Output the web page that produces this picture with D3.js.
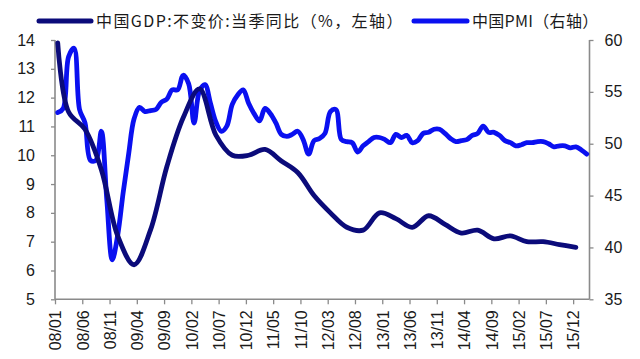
<!DOCTYPE html>
<html><head><meta charset="utf-8">
<script src="https://cdn.jsdelivr.net/npm/d3@7"></script>
<style>
html,body{margin:0;padding:0;background:#fff;}
svg{display:block;font-family:"Liberation Sans",Arial,sans-serif;}
</style></head>
<body>
<svg id="chart" width="640" height="359"></svg>
<script>
// ---- data ----
const startYear = 2008;
const monthCount = 98; // 2008/01 .. 2016/02
const xTickLabels = ["08/01","08/06","08/11","09/04","09/09","10/02","10/07","10/12","11/05","11/10",
                     "12/03","12/08","13/01","13/06","13/11","14/04","14/09","15/02","15/07","15/12"];
const leftTicks = [5,6,7,8,9,10,11,12,13,14];
const rightTicks = [35,40,45,50,55,60];
const gdpDates = ["2008-01","2008-03","2008-06","2008-09","2008-12","2009-03","2009-06","2009-09","2009-12",
                  "2010-03","2010-06","2010-09","2010-12","2011-03","2011-06","2011-09","2011-12",
                  "2012-03","2012-06","2012-09","2012-12","2013-03","2013-06","2013-09","2013-12",
                  "2014-03","2014-06","2014-09","2014-12","2015-03","2015-06","2015-09","2015-12"];
const gdpValues = [13.9,11.5,10.9,9.5,7.2,6.2,7.4,9.6,11.3,
                   12.3,10.7,10.0,10.0,10.2,9.8,9.4,8.6,
                   8.0,7.5,7.4,8.0,7.8,7.5,7.9,7.6,
                   7.3,7.4,7.1,7.2,7.0,7.0,6.9,6.8];
const pmiStart = "2008-01";
const pmiValues = [
  53.0,53.4,58.4,59.2,53.3,52.0,48.4,48.4,51.2,44.6,38.8,41.2,
  45.3,49.0,52.4,53.5,53.1,53.2,53.3,54.0,54.3,55.2,55.2,56.6,
  55.8,52.0,55.1,55.7,53.9,52.1,51.2,51.7,53.8,54.7,55.2,53.9,
  52.9,52.2,53.4,52.9,52.0,50.9,50.7,50.9,51.2,50.4,49.0,50.3,
  50.5,51.0,53.1,53.3,50.4,50.2,50.1,49.2,49.8,50.2,50.6,50.6,
  50.4,50.1,50.9,50.6,50.8,50.1,50.3,51.0,51.1,51.4,51.4,51.0,
  50.5,50.2,50.3,50.4,50.8,51.0,51.7,51.1,51.1,50.8,50.3,50.1,
  49.8,49.9,50.1,50.1,50.2,50.2,50.0,49.7,49.8,49.8,49.6,49.7,
  49.4,49.0];
const legendLabels = ["中国GDP:不变价:当季同比（%，左轴）","中国PMI（右轴）"];
const colors = {gdp:"#0b0b7a", pmi:"#0a10f0", axis:"#8a8a8a", text:"#1a1a1a"};

// ---- helpers ----
function monthIndex(s){ const [y,m]=s.split("-").map(Number); return (y-startYear)*12+(m-1); }
function labelIndex(l){ const [y,m]=l.split("/").map(Number); return (2000+y-startYear)*12+(m-1); }

const svg = d3.select("#chart");
const L = 55, R = 589.5, T = 40, B = 299.3;

const x = d3.scaleLinear().domain([0, monthCount]).range([L, R]);
const yL = d3.scaleLinear().domain([5, 14]).range([B, T]);
const yR = d3.scaleLinear().domain([35, 60]).range([B, T]);

// axes
const axL = svg.append("g").attr("transform",`translate(${L},0)`)
  .call(d3.axisLeft(yL).tickValues(leftTicks).tickSize(4).tickPadding(16).tickFormat(d3.format("d")));
const axR = svg.append("g").attr("transform",`translate(${R},0)`)
  .call(d3.axisRight(yR).tickValues(rightTicks).tickSize(4).tickPadding(11).tickFormat(d3.format("d")));
const axB = svg.append("g").attr("transform",`translate(0,${B})`)
  .call(d3.axisBottom(x).tickValues(xTickLabels.map(labelIndex)).tickSize(5)
        .tickFormat((d,i)=>xTickLabels[i]));
[axL,axR,axB].forEach(a=>{
  a.select(".domain").attr("stroke",colors.axis).attr("stroke-width",1.6);
  a.selectAll(".tick line").attr("stroke",colors.axis).attr("stroke-width",1.3);
  a.selectAll("text").attr("fill",colors.text).attr("font-size",16);
});
axL.select(".domain").attr("d",`M0,${B}V${T}`);
axR.select(".domain").attr("d",`M0,${B}V${T}`);
axB.select(".domain").attr("d",`M${L},0H${R}`);
axB.selectAll(".tick text")
  .attr("transform","rotate(-90)")
  .attr("text-anchor","end")
  .attr("x",-11).attr("y",0).attr("dy","0.36em");

// lines
const pmiData = pmiValues.map((v,i)=>({i:monthIndex(pmiStart)+i, v}));
const gdpData = gdpValues.map((v,i)=>({i:monthIndex(gdpDates[i]), v}));

svg.append("path").datum(pmiData)
  .attr("fill","none").attr("stroke",colors.pmi).attr("stroke-width",4.8)
  .attr("stroke-linejoin","round").attr("stroke-linecap","round")
  .attr("d", d3.line().x(d=>x(d.i+0.5)).y(d=>yR(d.v)).curve(d3.curveCatmullRom.alpha(0.5)));

svg.append("path").datum(gdpData)
  .attr("fill","none").attr("stroke",colors.gdp).attr("stroke-width",4.8)
  .attr("stroke-linejoin","round").attr("stroke-linecap","round")
  .attr("d", d3.line().x(d=>x(d.i+0.5)).y(d=>yL(d.v)).curve(d3.curveCatmullRom.alpha(0.5)));

// legend
const leg = svg.append("g").attr("font-size",16).attr("fill",colors.text);
const legY = 21;
const items = [
  {x1:39,x2:91,tx:96,c:colors.gdp,t:legendLabels[0],ls:1.4},
  {x1:414,x2:467,tx:472,c:colors.pmi,t:legendLabels[1],ls:0.3}
];
items.forEach(it=>{
  leg.append("line").attr("x1",it.x1).attr("x2",it.x2).attr("y1",legY).attr("y2",legY)
    .attr("stroke",it.c).attr("stroke-width",5).attr("stroke-linecap","round");
  leg.append("text").attr("x",it.tx).attr("y",legY).attr("dy","0.36em")
    .attr("letter-spacing",it.ls)
    .attr("font-family","'Noto Sans CJK SC','Liberation Sans',sans-serif")
    .text(it.t);
});
</script>
</body></html>
